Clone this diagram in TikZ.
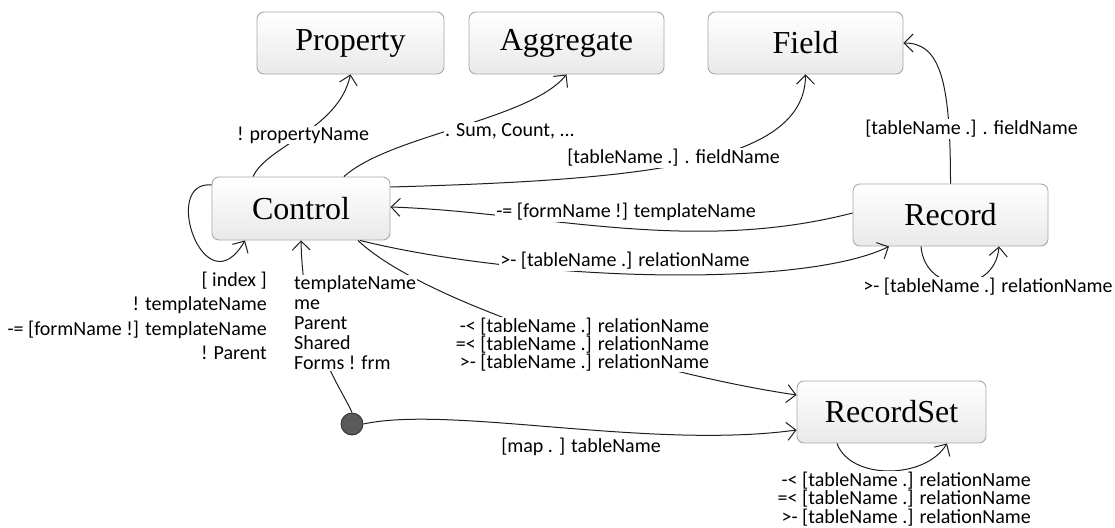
\documentclass[tikz,border=0pt]{standalone}
\usepackage{fontspec}
\setmainfont{Carlito}
\newfontfamily\boxfont{Liberation Serif}
\usetikzlibrary{arrows.meta,shadings}

\definecolor{boxedge}{HTML}{A8A8A8}
\definecolor{boxshade}{HTML}{E9E9E9}
\definecolor{ink}{HTML}{1E1E1E}
\definecolor{dot}{HTML}{5A5A5A}
\definecolor{dotedge}{HTML}{2E2E2E}

\tikzset{
  entity/.style={draw=boxedge, line width=0.9pt, rounded corners=7pt,
    top color=white, bottom color=boxshade, minimum width=#1,
    minimum height=62pt, inner sep=0pt,
    font=\boxfont\fontsize{32}{32}\selectfont},
  entity/.default=195pt,
  rel/.style={draw=ink, line width=1pt,
    -{Straight Barb[length=9pt,width=18pt,line width=1pt]}},
  tag/.style={font=\fontsize{20}{20}\selectfont, inner sep=1pt, fill=white, text=black},
}

\begin{document}
\begin{tikzpicture}[x=1pt,y=-1pt]
\useasboundingbox (0,0) rectangle (1115,527);

% entities
\node[entity=187pt] (property) at (350.5,43) {Property};
\node[entity] (aggregate) at (566.5,43) {Aggregate};
\node[entity] (field) at (805.5,43) {Field};
\node[entity=178pt, minimum height=63pt] (control) at (301,208.5) {Control};
\node[entity] (record) at (950.5,215) {Record};
\node[entity=189pt] (recordset) at (891.5,412) {RecordSet};
\node[circle, fill=dot, draw=dotedge, line width=0.8pt, minimum size=22pt, inner sep=0pt] (start) at (352,424) {};

% relations
\draw[rel] ([xshift=-48pt]control.north) .. controls (268,145) and (338,130) .. (property.south);
\draw[rel] ([xshift=43pt]control.north) .. controls (390,135) and (530,120) .. (aggregate.south);
\draw[rel] ([yshift=21.5pt]control.east) .. controls (640,180) and (805,165) .. (field.south);
\draw[rel] (record.north) .. controls (950.5,80) and (940,43) .. (field.east);
\draw[rel] ([yshift=2pt]record.west) .. controls (690,255) and (540,212) .. ([yshift=1.5pt]control.east);
\draw[rel] ([xshift=59pt]control.south) .. controls (520,280) and (800,290) .. ([xshift=-61.5pt]record.south);
\draw[rel] ([xshift=57pt]control.south) .. controls (420,300) and (640,372) .. ([yshift=17pt]recordset.west);
\draw[rel] (start.north) .. controls (340,385) and (303,340) .. (control.south);
\draw[rel] (start.east) .. controls (450,405) and (650,450) .. ([yshift=-18pt]recordset.west);
\draw[rel] ([yshift=23.5pt]control.west) .. controls (160,180) and (205,310) .. ([xshift=-56pt]control.south);
\draw[rel] ([xshift=-29.5pt]record.south) .. controls (925,295) and (995,295) .. ([xshift=48.5pt]record.south);
\draw[rel] ([xshift=-54.5pt]recordset.south) .. controls (850,480) and (925,480) .. ([xshift=55.5pt]recordset.south);

% relation labels
\node[tag] (lprop) at (303,135) {! propertyName};
\node[tag] (lagg) at (510,131) {. Sum, Count, ...};
\node[tag] (lfield) at (673.5,158) {[tableName .] . fieldName};
\node[tag] (lrecfield) at (971.5,129) {[tableName .] . fieldName};
\node[tag] (ltempl) at (626,212) {-= [formName !] templateName};
\node[tag] (lrel) at (625,261) {>- [tableName .] relationName};
\node[tag] (lrecloop) at (988,287) {>- [tableName .] relationName};
\node[tag, align=right, font=\fontsize{20}{18}\selectfont] (lset) at (582.5,344.5)
  {-< [tableName .] relationName\\=< [tableName .] relationName\\>- [tableName .] relationName};
\node[tag, align=left, anchor=west, font=\fontsize{20}{20}\selectfont] (lctrl) at (293,323)
  {templateName\\me\\Parent\\Shared\\Forms ! frm};
\node[tag, align=right, anchor=east, font=\fontsize{20}{24.5}\selectfont] (lself) at (268,316)
  {[ index ]\\! templateName\\-= [formName !] templateName\\! Parent};
\node[tag] (lmap) at (581,447) {[map . ] tableName};
\node[tag, align=right, anchor=east, font=\fontsize{20}{17}\selectfont] (lsetloop) at (1032,499)
  {-< [tableName .] relationName\\=< [tableName .] relationName\\>- [tableName .] relationName};
\end{tikzpicture}
\end{document}
